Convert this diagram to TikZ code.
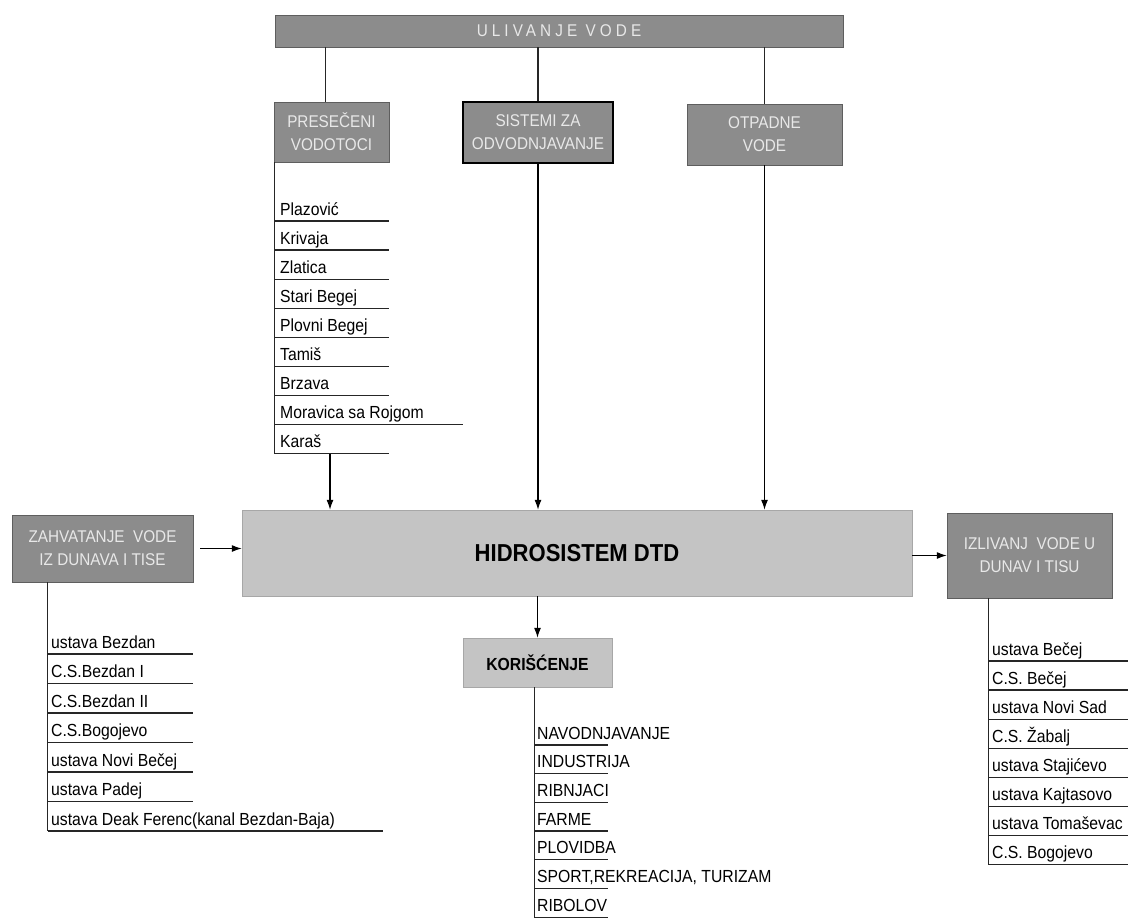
\documentclass[tikz,border=0pt]{standalone}
\usepackage{fontspec}
\usetikzlibrary{arrows.meta}
\setmainfont{Liberation Sans}[FakeStretch=0.9]
\newfontfamily\spacedfont{Liberation Sans}[FakeStretch=0.9,LetterSpace=24]
\definecolor{boxfill}{HTML}{8C8C8C}
\definecolor{boxline}{HTML}{5E5E5E}
\definecolor{palefill}{HTML}{C4C4C4}
\definecolor{boxtext}{HTML}{E8E8E8}

\begin{document}
\begin{tikzpicture}[x=1pt, y=-1pt,
    greybox/.style={draw=boxline, fill=boxfill, text=boxtext, align=center, inner sep=0pt,
      font=\fontsize{17}{23}\selectfont},
    palebox/.style={draw=palefill!85!black, fill=palefill, inner sep=0pt},
    item/.style={anchor=base west, inner sep=0pt, font=\fontsize{17.5}{19}\selectfont},
    uline/.style={draw=black!85, line width=1.3pt},
    arr/.style={-{Latex[length=10pt,width=7pt]}, line width=1.2pt}]

    \useasboundingbox (0,0) rectangle (1129,922);

    % inflow
    \node[greybox, minimum width=568pt, minimum height=32pt,
      font=\spacedfont\fontsize{17}{19}\selectfont] (ulivanje) at (559,31) {ULIVANJE VODE};
       \node[greybox, minimum width=115pt, minimum height=60pt] (preseceni) at (331.5,132) {PRESEČENI\\VODOTOCI};
       \node[greybox, draw=black, line width=1.8pt, minimum width=150pt, minimum height=61pt] (sistemi) at (538,132.5) {SISTEMI ZA\\ODVODNJAVANJE};
       \node[greybox, minimum width=155pt, minimum height=61pt] (otpadne) at (764.5,134.5) {OTPADNE\\VODE};
       \coordinate (pin) at ([xshift=-6pt]preseceni.north);
       \draw[uline] (pin |- ulivanje.south) -- (pin);
       \draw[uline] (sistemi.north |- ulivanje.south) -- (sistemi.north);
       \draw[uline] (otpadne.north |- ulivanje.south) -- (otpadne.north);

    % main system
    \node[palebox, minimum width=670pt, minimum height=86pt,
      font=\bfseries\fontsize{24.5}{26}\selectfont] (hidro) at (577,553) {HIDROSISTEM DTD};
    \node[greybox, minimum width=181pt, minimum height=67pt] (zahvat) at (102.5,548.5) {ZAHVATANJE~~VODE\\IZ DUNAVA I TISE};
    \node[greybox, minimum width=165pt, minimum height=85pt] (izliv) at (1029.5,555.5) {IZLIVANJ~~VODE U\\DUNAV I TISU};
    \node[palebox, minimum width=149pt, minimum height=49pt,
      font=\bfseries\fontsize{17.5}{19}\selectfont] (korisc) at (537.5,662.5) {KORIŠĆENJE};

    \draw[arr] (sistemi.south) -- (sistemi.south |- hidro.north);
    \draw[arr] (otpadne.south) -- (otpadne.south |- hidro.north);
    \draw[arr] ([xshift=7pt]zahvat.east) -- (hidro.west |- zahvat.east);
    \draw[arr] (hidro.east |- izliv.west) -- (izliv.west);
    \draw[arr] (korisc.north |- hidro.south) -- (korisc.north);

    % watercourses
    \foreach \t/\w [count=\i from 0] in {Plazović/114, Krivaja/114, Zlatica/114, Stari Begej/114,
        Plovni Begej/114, Tamiš/114, Brzava/114, Moravica sa Rojgom/188, Karaš/114} {
      \node[item] (pv\i) at (280, 215+29.1*\i) {\t};
      \draw[uline] (275, 221+29.1*\i) -- ++(\w,0);
    }
    \draw[uline] (preseceni.south west) ++(1,0) -- ++(0,292);
    \coordinate (pvend) at (330,454);
    \draw[arr] (pvend) -- (pvend |- hidro.north);

    % intakes
    \foreach \t/\w [count=\i from 0] in {ustava Bezdan/145, C.S.Bezdan I/145, C.S.Bezdan II/145,
        C.S.Bogojevo/145, ustava Novi Bečej/145, ustava Padej/145,
        ustava Deak Ferenc(kanal Bezdan-Baja)/335} {
      \node[item] (zv\i) at (51, 648+29.5*\i) {\t};
      \draw[uline] (48, 654+29.5*\i) -- ++(\w,0);
    }
    \draw[uline] (zahvat.south west) ++(36,0) -- ++(0,249);

    % uses
    \foreach \t [count=\i from 0] in {NAVODNJAVANJE, INDUSTRIJA, RIBNJACI, FARME, PLOVIDBA,
        {SPORT,REKREACIJA, TURIZAM}, RIBOLOV} {
      \node[item] (kv\i) at (537, 739+28.7*\i) {\t};
      \draw[uline] (534, 745+28.7*\i) -- ++(74,0);
    }
    \draw[uline] (korisc.south) ++(-3,0) -- ++(0,230);

    % outflows
    \foreach \t [count=\i from 0] in {ustava Bečej, C.S. Bečej, ustava Novi Sad, C.S. Žabalj,
        ustava Stajićevo, ustava Kajtasovo, ustava Tomaševac, C.S. Bogojevo} {
      \node[item] (iv\i) at (992, 655+29.1*\i) {\t};
      \draw[uline] (989, 661+29.1*\i) -- ++(139,0);
    }
    \draw[uline] (izliv.south west) ++(42,0) -- ++(0,267);

  \end{tikzpicture}
\end{document}
